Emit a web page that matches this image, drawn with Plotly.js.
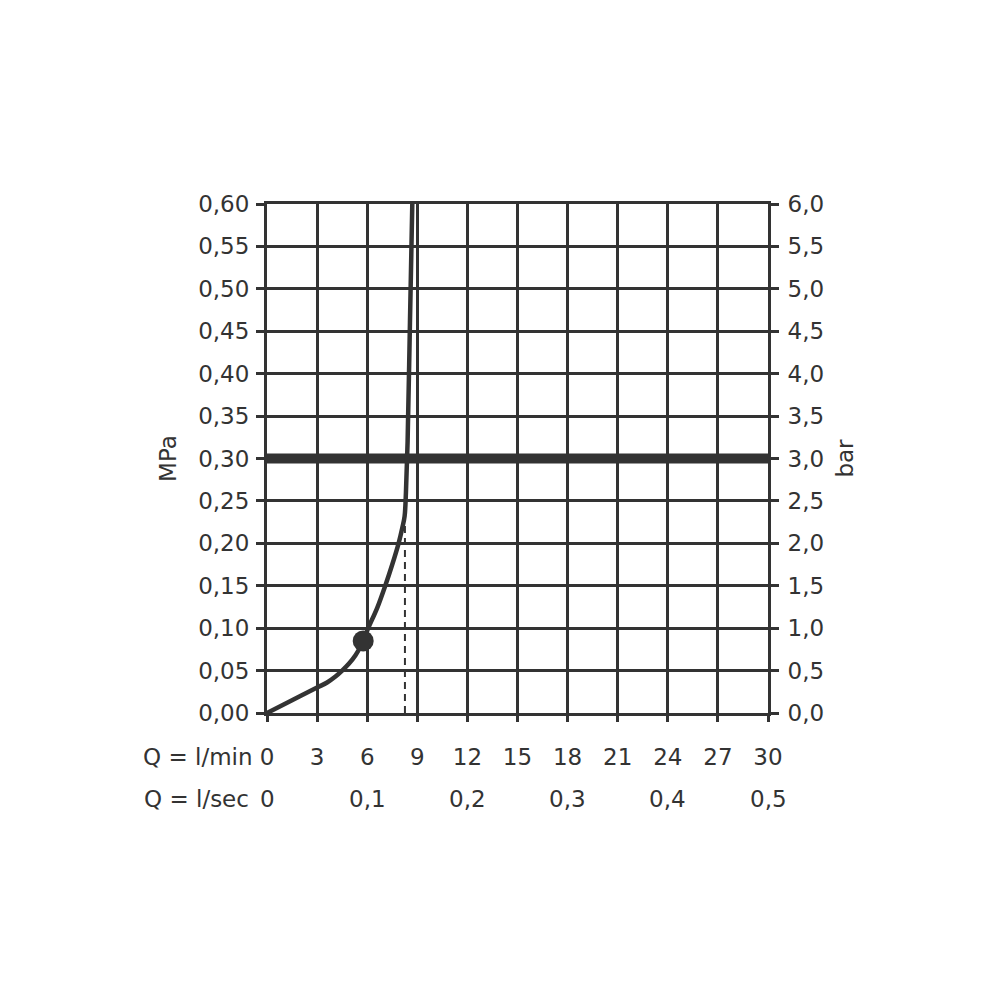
<!DOCTYPE html>
<html>
<head>
<meta charset="utf-8">
<script src="https://cdn.plot.ly/plotly-3.0.1.min.js"></script>
<style>html,body{margin:0;padding:0;background:#fff;}#chart{width:1000px;height:1000px;}</style>
</head>
<body>
<div id="chart"></div>
<script>
// Flow (l/min) vs pressure (MPa) curve
const flowLmin = [0, 1.5, 3, 3.6, 4.1, 4.5, 4.9, 5.3, 5.76, 6.06, 6.6, 7.08, 7.5, 7.88, 8.1, 8.24, 8.32, 8.42, 8.56, 8.7];
const pressureMPa = [0, 0.015, 0.030, 0.036, 0.043, 0.050, 0.058, 0.068, 0.085, 0.100, 0.124, 0.150, 0.175, 0.200, 0.218, 0.232, 0.260, 0.320, 0.460, 0.600];
// Marked operating point
const pointFlow = [5.76];
const pointPressure = [0.085];
// Dashed reference at maximum flow
const dashFlow = [8.26, 8.26];
const dashPressure = [0, 0.228];
// Heavy reference line at 0.30 MPa
const refFlow = [0, 30];
const refPressure = [0.30, 0.30];
// Tick labels
const xTickVals = [0, 3, 6, 9, 12, 15, 18, 21, 24, 27, 30];
const lsecVals = [0, 0.1, 0.2, 0.3, 0.4, 0.5];
const lsecLabels = ['0', '0,1', '0,2', '0,3', '0,4', '0,5'];

const ink = '#333333';
const font = {family: '"DejaVu Sans", sans-serif', size: 23, color: ink};

const traces = [
  {x: refFlow, y: refPressure, mode: 'lines', line: {color: ink, width: 10}, hoverinfo: 'skip', showlegend: false},
  {x: dashFlow, y: dashPressure, mode: 'lines', line: {color: ink, width: 2, dash: '7px,5px'}, showlegend: false},
  {x: flowLmin, y: pressureMPa, mode: 'lines', line: {color: ink, width: 4.5, shape: 'spline', smoothing: 1}, showlegend: false},
  {x: pointFlow, y: pointPressure, mode: 'markers', marker: {color: ink, size: 21}, showlegend: false},
  {x: [0, 30], y: [0, 6], yaxis: 'y2', mode: 'none', hoverinfo: 'skip', showlegend: false}
];

const annotations = [
  {text: 'Q = l/min', xref: 'paper', yref: 'paper', x: 0, y: 0, xanchor: 'right', yanchor: 'middle', xshift: -12, yshift: -44, showarrow: false, font: font},
  {text: 'Q = l/sec', xref: 'paper', yref: 'paper', x: 0, y: 0, xanchor: 'right', yanchor: 'middle', xshift: -16, yshift: -86, showarrow: false, font: font}
];
lsecVals.forEach((v, i) => {
  annotations.push({text: lsecLabels[i], xref: 'x', yref: 'paper', x: v * 60, y: 0, xanchor: 'center', yanchor: 'middle', yshift: -86, showarrow: false, font: font});
});

const axisCommon = {
  showgrid: true, gridcolor: ink, gridwidth: 3,
  showline: true, linecolor: ink, linewidth: 3,
  ticks: 'outside', ticklen: 8, tickwidth: 3, tickcolor: ink,
  zeroline: false, tickfont: font, fixedrange: true
};

const layout = {
  width: 1000, height: 1000,
  margin: {l: 267, r: 232, t: 204, b: 287, pad: 0},
  paper_bgcolor: '#fff', plot_bgcolor: '#fff',
  separators: ',.',
  font: font,
  xaxis: Object.assign({}, axisCommon, {range: [0, 30], tickvals: xTickVals, ticklen: 6, mirror: true, ticklabelstandoff: 15}),
  yaxis: Object.assign({}, axisCommon, {range: [0, 0.6], dtick: 0.05, tick0: 0, tickformat: '.2f', ticklabelstandoff: 2,
    title: {text: 'MPa', font: font, standoff: 16}}),
  yaxis2: Object.assign({}, axisCommon, {range: [0, 6], dtick: 0.5, tick0: 0, tickformat: '.1f', overlaying: 'y', side: 'right', showgrid: false, ticklabelstandoff: 4,
    title: {text: 'bar', font: font, standoff: 14}}),
  annotations: annotations,
  showlegend: false
};

Plotly.newPlot('chart', traces, layout, {displayModeBar: false, staticPlot: true});
</script>
</body>
</html>
